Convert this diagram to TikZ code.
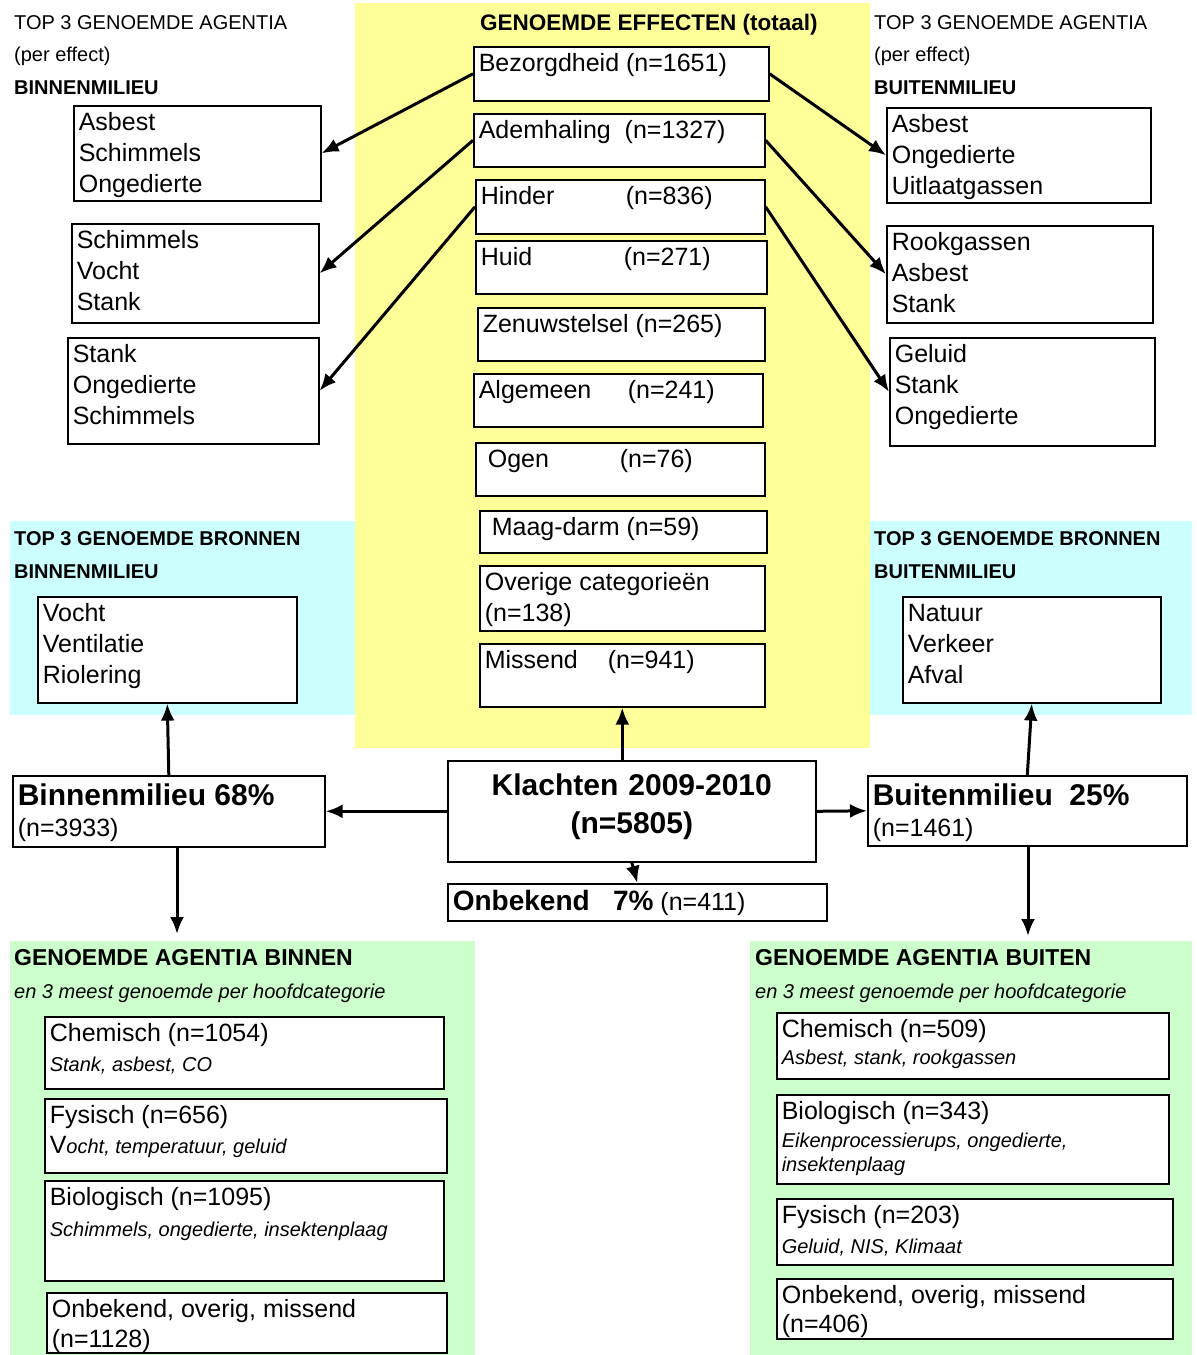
\documentclass[tikz,border=0pt]{standalone}
\usepackage{fontspec}
\setmainfont{Liberation Sans}
\usetikzlibrary{arrows.meta}
\definecolor{effyellow}{HTML}{FFFF99}
\definecolor{bronblue}{HTML}{CCFFFF}
\definecolor{aggreen}{HTML}{CCFFCC}
\newcommand{\detail}[1]{{\fontsize{20}{24}\selectfont\itshape #1}}
\tikzset{
    entry/.style 2 args={draw, line width=1.6pt, fill=white, anchor=north west,
        align=flush left, inner xsep=5pt, inner ysep=0pt, text height=25pt,
        text width=#1, text depth=#2, font=\fontsize{25}{31}\selectfont},
    main entry/.style={text height=30pt},
    heading/.style={anchor=base west, inner sep=0pt, align=flush left,
        text width=#1, font=\fontsize{20}{32.5}\selectfont},
    arrow/.style={->, line width=3pt}
}
\begin{document}
\begin{tikzpicture}[x=1pt, y=-1pt, >={Latex[length=17pt,width=14pt]}]
\useasboundingbox (0,0) rectangle (1197,1355);
% background panels
\fill[effyellow] (355,3) rectangle (870,748);
\fill[bronblue] (10,521) rectangle (355,715);
\fill[bronblue] (870,521) rectangle (1192,715);
\fill[aggreen] (10,941) rectangle (475,1355);
\fill[aggreen] (750,941) rectangle (1192,1355);

% headings
\node[heading=340pt] (hdAgL) at (14,29) {TOP 3 GENOEMDE AGENTIA\\(per effect)\\\textbf{BINNENMILIEU}};
\node[heading=320pt] (hdAgR) at (874,29) {TOP 3 GENOEMDE AGENTIA\\(per effect)\\\textbf{BUITENMILIEU}};
\node[heading=390pt, font=\bfseries\fontsize{22.5}{30}\selectfont] (hdEff) at (480,30) {GENOEMDE EFFECTEN (totaal)};
\node[heading=340pt, font=\bfseries\fontsize{20}{33}\selectfont] (hdBronL) at (14,545) {TOP 3 GENOEMDE BRONNEN\\BINNENMILIEU};
\node[heading=320pt, font=\bfseries\fontsize{20}{33}\selectfont] (hdBronR) at (874,545) {TOP 3 GENOEMDE BRONNEN\\BUITENMILIEU};
\node[heading=460pt, font=\fontsize{20}{33}\selectfont] (hdAgBin) at (14,965) {{\bfseries\fontsize{23}{33}\selectfont GENOEMDE AGENTIA BINNEN}\\\textit{en 3 meest genoemde per hoofdcategorie}};
\node[heading=440pt, font=\fontsize{20}{33}\selectfont] (hdAgBuit) at (755,965) {{\bfseries\fontsize{23}{33}\selectfont GENOEMDE AGENTIA BUITEN}\\\textit{en 3 meest genoemde per hoofdcategorie}};

% effects
\node[entry={285pt}{29pt}] (bez) at (473,46) {Bezorgdheid (n=1651)};
\node[entry={281pt}{28pt}] (adem) at (473,113) {Ademhaling\ \ (n=1327)};
\node[entry={279pt}{29pt}] (hind) at (475,179) {\makebox[145pt][l]{Hinder}(n=836)};
\node[entry={281pt}{28pt}] (huid) at (475,240) {\makebox[143pt][l]{Huid}(n=271)};
\node[entry={277pt}{28pt}] (zenuw) at (477,307) {Zenuwstelsel (n=265)};
\node[entry={279pt}{28pt}] (alg) at (473,373) {\makebox[149pt][l]{Algemeen}(n=241)};
\node[entry={279pt}{28pt}] (ogen) at (475,442) {\hspace*{7pt}\makebox[132pt][l]{Ogen}(n=76)};
\node[entry={277pt}{17pt}] (maag) at (479,510) {\hspace*{7pt}Maag-darm (n=59)};
\node[entry={275pt}{40pt}] (overig) at (479,565) {Overige categorieën\\(n=138)};
\node[entry={275pt}{38pt}] (miss) at (479,643) {\makebox[123pt][l]{Missend}(n=941)};

% agentia per effect
\node[entry={237pt}{70pt}] (a1) at (73,105) {Asbest\\Schimmels\\Ongedierte};
\node[entry={237pt}{74pt}] (a2) at (71,223) {Schimmels\\Vocht\\Stank};
\node[entry={241pt}{81pt}] (a3) at (67,337) {Stank\\Ongedierte\\Schimmels};
\node[entry={254pt}{70pt}] (b1) at (886,107) {Asbest\\Ongedierte\\Uitlaatgassen};
\node[entry={256pt}{72pt}] (b2) at (886,225) {Rookgassen\\Asbest\\Stank};
\node[entry={255pt}{83pt}] (b3) at (889,337) {Geluid\\Stank\\Ongedierte};

% bronnen
\node[entry={249pt}{81pt}] (bronL) at (37,596) {Vocht\\Ventilatie\\Riolering};
\node[entry={248pt}{81pt}] (bronR) at (902,596) {Natuur\\Verkeer\\Afval};

% klachten
\node[entry={302pt}{41pt}, main entry] (bin) at (12,775) {{\bfseries\fontsize{30}{31}\selectfont Binnenmilieu 68\%}\\(n=3933)};
\node[entry={358pt}{66pt}, text height=35pt, align=center, font=\bfseries\fontsize{30}{38}\selectfont] (klacht) at (447,760) {Klachten 2009-2010\\(n=5805)};
\node[entry={309pt}{40pt}, main entry] (buit) at (867,775) {{\bfseries\fontsize{30}{31}\selectfont Buitenmilieu\ \ 25\%}\\(n=1461)};
\node[entry={369pt}{10pt}, text height=27pt] (onb) at (447,883) {{\bfseries\fontsize{28}{31}\selectfont Onbekend\ \ \ 7\%} (n=411)};

% agentia binnen
\node[entry={389pt}{47pt}] (c1) at (44,1016) {Chemisch (n=1054)\\[-1pt]\detail{Stank, asbest, CO}};
\node[entry={392pt}{49pt}] (c2) at (44,1098) {Fysisch (n=656)\\[-1pt]V\detail{ocht, temperatuur, geluid}};
\node[entry={389pt}{75pt}] (c3) at (44,1180) {Biologisch (n=1095)\\[0pt]\detail{Schimmels, ongedierte, insektenplaag}};
\node[entry={390pt}{35pt}] (c4) at (46,1292) {Onbekend, overig, missend\\[-1pt](n=1128)};

% agentia buiten
\node[entry={382pt}{41pt}] (d1) at (776,1012) {Chemisch (n=509)\\[-4pt]\detail{Asbest, stank, rookgassen}};
\node[entry={382pt}{64pt}] (d2) at (776,1094) {Biologisch (n=343)\\[-3pt]\detail{Eikenprocessierups, ongedierte,}\\[-7pt]\detail{insektenplaag}};
\node[entry={386pt}{41pt}] (d3) at (776,1198) {Fysisch (n=203)\\[-1pt]\detail{Geluid, NIS, Klimaat}};
\node[entry={386pt}{35pt}] (d4) at (776,1278) {Onbekend, overig, missend\\[-2pt](n=406)};

\coordinate (agL) at (177,934);
\coordinate (agR) at (1028,936);

% connectors
\draw[arrow] (bez.west) -- (a1.east);
\draw[arrow] (adem.west) -- (a2.east);
\draw[arrow] (hind.west) -- (a3.east);
\draw[arrow] (bez.east) -- (b1.west);
\draw[arrow] (adem.east) -- (b2.west);
\draw[arrow] (hind.east) -- (b3.west);
\draw[arrow] (klacht.north -| miss.south) -- (miss.south);
\draw[arrow] (klacht.west) -- (bin.east);
\draw[arrow] (klacht.east) -- (buit.west);
\draw[arrow] (klacht.south) -- (onb.north);
\draw[arrow] (bin.north) -- (bronL.south);
\draw[arrow] (buit.north) -- (bronR.south);
\draw[arrow] (bin.south -| agL) -- (agL);
\draw[arrow] (buit.south -| agR) -- (agR);
\end{tikzpicture}
\end{document}
